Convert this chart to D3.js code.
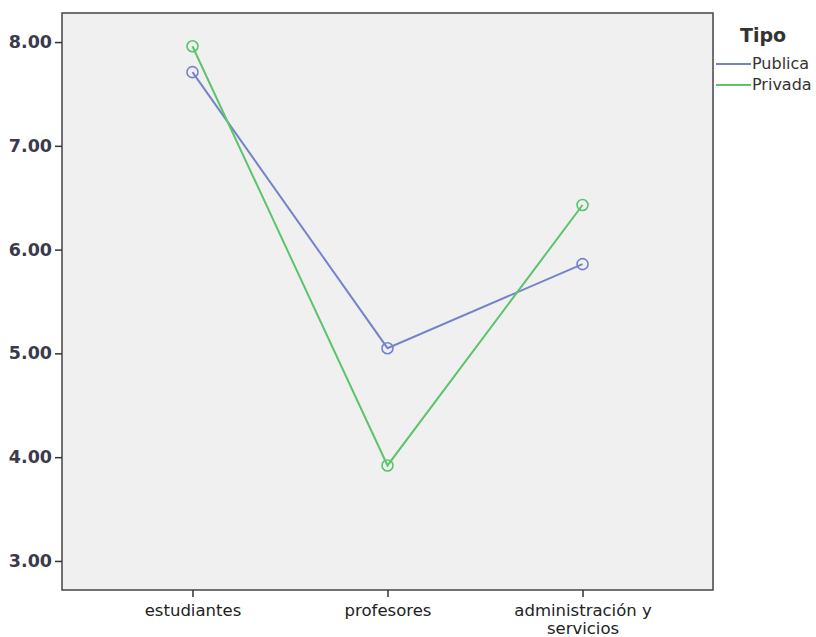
<!DOCTYPE html>
<html><head><meta charset="utf-8">
<script src="https://cdn.jsdelivr.net/npm/d3@7"></script>
<style>body{margin:0;background:#fff}svg{display:block}</style>
</head><body>
<script>
const categories = ["estudiantes", "profesores", "administración y servicios"];
const categoryLines = [["estudiantes"], ["profesores"], ["administración y", "servicios"]];
const seriesNames = ["Publica", "Privada"];
const publica = [7.71, 5.05, 5.86];
const privada = [7.96, 3.92, 6.43];
const yTicks = [3, 4, 5, 6, 7, 8];
const colors = ["#7583c8", "#5cc46c"];

const W = 816, H = 637;
const box = {l: 62, t: 13, r: 713, b: 590};
const svg = d3.select("body").append("svg").attr("width", W).attr("height", H);
const font = "DejaVu Sans, Verdana, sans-serif";

const y = d3.scaleLinear().domain([2.72, 8.28]).range([box.b, box.t]);
const x = d3.scalePoint().domain(categories).range([box.l, box.r]).padding(0.669);

svg.append("rect").attr("x", box.l).attr("y", box.t).attr("width", box.r - box.l).attr("height", box.b - box.t)
  .attr("fill", "#f0f0f0").attr("stroke", "#444").attr("stroke-width", 1.5);

const yAxis = svg.append("g").attr("transform", `translate(${box.l},0)`)
  .call(d3.axisLeft(y).tickValues(yTicks).tickFormat(d3.format(".2f")).tickSize(7).tickPadding(3));
yAxis.select(".domain").remove();
yAxis.selectAll("line").attr("stroke", "#333").attr("stroke-width", 1.5);
yAxis.selectAll("text").attr("font-family", font).attr("font-size", 17.5).attr("fill", "#3a3a4a").attr("font-weight", "bold");

const xAxis = svg.append("g").attr("transform", `translate(0,${box.b})`)
  .call(d3.axisBottom(x).tickSize(7).tickFormat(""));
xAxis.select(".domain").remove();
xAxis.selectAll("line").attr("stroke", "#333").attr("stroke-width", 1.5);
xAxis.selectAll(".tick").each(function(d, i) {
  const t = d3.select(this).append("text").attr("fill", "#222").attr("font-family", font)
    .attr("font-size", 16.5).attr("text-anchor", "middle");
  categoryLines[i].forEach((ln, j) => t.append("tspan").attr("x", 0).attr("y", 26 + j * 18).text(ln));
});

const series = [publica, privada];
const line = d3.line().x((d, i) => x(categories[i])).y(d => y(d));
series.forEach((vals, s) => {
  svg.append("path").datum(vals).attr("d", line).attr("fill", "none")
    .attr("stroke", colors[s]).attr("stroke-width", 2);
  svg.selectAll(null).data(vals).enter().append("circle")
    .attr("cx", (d, i) => x(categories[i])).attr("cy", d => y(d)).attr("r", 5.5)
    .attr("fill", "none").attr("stroke", colors[s]).attr("stroke-width", 1.6);
});

const lg = svg.append("g");
lg.append("text").attr("x", 740).attr("y", 42).attr("font-family", font).attr("font-size", 19)
  .attr("font-weight", "bold").attr("fill", "#333").text("Tipo");
seriesNames.forEach((n, i) => {
  const yy = 64 + i * 21;
  lg.append("line").attr("x1", 716).attr("x2", 751).attr("y1", yy).attr("y2", yy)
    .attr("stroke", colors[i]).attr("stroke-width", 2);
  lg.append("text").attr("x", 752).attr("y", yy + 5).attr("font-family", font).attr("font-size", 16)
    .attr("fill", "#333").text(n);
});
</script>
</body></html>
